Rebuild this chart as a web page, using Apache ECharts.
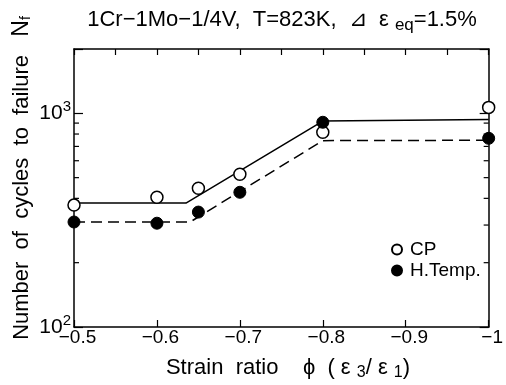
<!DOCTYPE html>
<html>
<head>
<meta charset="utf-8">
<script src="https://cdn.jsdelivr.net/npm/echarts@6/dist/echarts.min.js"></script>
<style>html,body{margin:0;padding:0;background:#fff;}#c{width:506px;height:385px;}</style>
</head>
<body>
<div id="c"></div>
<script>
// Data
var strainRatio = [-0.5, -0.6, -0.65, -0.7, -0.8, -1.0];
var cpCycles = [372, 405, 446, 519, 815, 1066];
var hTempCycles = [310, 306, 345, 427, 908, 764];
// fitted trend lines (breakpoints)
var cpLineX = [-0.5, -0.635, -0.8, -1.0];
var cpLineY = [380, 380, 920, 935];
var hTempLineX = [-0.5, -0.64, -0.8, -1.0];
var hTempLineY = [310, 310, 745, 748];
// axes
var xTicks = [-0.5, -0.6, -0.7, -0.8, -0.9, -1];
var yMinorTicks = [200, 300, 400, 500, 600, 700, 800, 900];

function zip(a, b) { return a.map(function (v, i) { return [v, b[i]]; }); }

var FONT = '"Liberation Sans", Arial, Helvetica, sans-serif';
var chart = echarts.init(document.getElementById('c'));

function fmtX(v) {
  var r = Math.round(v * 100) / 100;
  if (r === -1) return '\u22121';
  return '\u2212' + Math.abs(r).toFixed(1);
}
function fmtY(v) {
  var l = Math.log10(v);
  if (Math.abs(l - Math.round(l)) < 1e-6) return '{b|10}{s|' + Math.round(l) + '}';
  return '';
}

var option = {
  backgroundColor: '#fff',
  animation: false,
  textStyle: { fontFamily: FONT, color: '#000' },
  grid: { left: 74, right: 17, top: 49, bottom: 58 },
  xAxis: [{
    type: 'value', min: -1, max: -0.5, interval: 0.1, inverse: true, position: 'bottom',
    axisLine: { onZero: false, lineStyle: { color: '#000', width: 1.5 } },
    axisTick: { inside: true, length: 7, lineStyle: { color: '#000', width: 1.2 } },
    axisLabel: { formatter: fmtX, fontSize: 19, color: '#000', fontFamily: FONT, margin: 1, padding: [0, 0, 0, 7], showMinLabel: true, showMaxLabel: true },
    splitLine: { show: false }
  }, {
    type: 'value', min: -1, max: -0.5, interval: 0.05, inverse: true, position: 'top',
    axisLine: { onZero: false, lineStyle: { color: '#000', width: 1.5 } },
    axisTick: { inside: true, length: 6, lineStyle: { color: '#000', width: 1.2 } },
    axisLabel: { show: false },
    splitLine: { show: false }
  }],
  yAxis: [{
    type: 'log', logBase: 10, min: 100, max: 2000, position: 'left',
    axisLine: { onZero: false, lineStyle: { color: '#000', width: 1.5 } },
    axisTick: { inside: true, length: 9, lineStyle: { color: '#000', width: 1.2 } },
    axisLabel: {
      formatter: fmtY, margin: 3, color: '#000',
      rich: {
        b: { fontSize: 21, fontFamily: FONT, color: '#000' },
        s: { fontSize: 15, fontFamily: FONT, color: '#000', padding: [0, 0, 12, 0] }
      }
    },
    splitLine: { show: false }
  }, {
    type: 'log', logBase: 10, min: 100, max: 2000, position: 'right',
    axisLine: { onZero: false, lineStyle: { color: '#000', width: 1.5 } },
    axisTick: { inside: true, length: 9, lineStyle: { color: '#000', width: 1.2 } },
    axisLabel: { show: false },
    splitLine: { show: false }
  }],
  legend: {
    data: ['CP', 'H.Temp.'], orient: 'vertical', left: 386, top: 235,
    itemWidth: 10, itemHeight: 10, itemGap: 2, icon: 'circle',
    textStyle: { fontSize: 19, color: '#000', fontFamily: FONT, padding: [0, 0, 0, 3] }
  },
  graphic: [{
    type: 'text', x: 282, y: 20,
    style: {
      text: '1Cr\u22121Mo\u22121/4V,  T=823K,  \u22BF  \u03B5 {sub|eq}=1.5%',
      font: '22px ' + FONT, fill: '#000', align: 'center', verticalAlign: 'middle',
      rich: { sub: { fontSize: 17, fontFamily: FONT, padding: [11, 0, 0, 0] } }
    }
  }, {
    type: 'text', x: 22, y: 178, rotation: Math.PI / 2,
    style: {
      text: 'Number  of  cycles  to  failure   {b|N}{s|f}',
      font: '22px ' + FONT, fill: '#000', align: 'center', verticalAlign: 'middle',
      rich: { b: { fontSize: 23, fontFamily: FONT }, s: { fontSize: 14, fontFamily: FONT, padding: [9, 0, 0, 0] } }
    }
  }, {
    type: 'text', x: 288, y: 368,
    style: {
      text: 'Strain  ratio    \u03D5  ( \u03B5 {sub|3}/ \u03B5 {sub|1})',
      font: '22px ' + FONT, fill: '#000', align: 'center', verticalAlign: 'middle',
      rich: { sub: { fontSize: 16, fontFamily: FONT, padding: [10, 0, 0, 0] } }
    }
  }],
  series: [{
    type: 'custom', xAxisIndex: 0, yAxisIndex: 0, silent: true,
    data: yMinorTicks.map(function (v) { return [-0.75, v]; }),
    renderItem: function (params, api) {
      var cs = params.coordSys;
      var y = api.coord([api.value(0), api.value(1)])[1];
      var st = { stroke: '#000', lineWidth: 1.2 };
      return { type: 'group', children: [
        { type: 'line', shape: { x1: cs.x, y1: y, x2: cs.x + 5, y2: y }, style: st },
        { type: 'line', shape: { x1: cs.x + cs.width - 5, y1: y, x2: cs.x + cs.width, y2: y }, style: st }
      ] };
    }
  }, {
    name: 'CP line', type: 'line', data: zip(cpLineX, cpLineY), symbol: 'none',
    lineStyle: { color: '#000', width: 1.5 }, z: 3
  }, {
    name: 'H.Temp. line', type: 'line', data: zip(hTempLineX, hTempLineY), symbol: 'none',
    lineStyle: { color: '#000', width: 1.5, type: [11, 6] }, z: 3
  }, {
    name: 'CP', type: 'scatter', data: zip(strainRatio, cpCycles), symbol: 'circle', symbolSize: 12,
    itemStyle: { color: '#fff', borderColor: '#000', borderWidth: 1.5, opacity: 1 }, z: 5
  }, {
    name: 'H.Temp.', type: 'scatter', data: zip(strainRatio, hTempCycles), symbol: 'circle', symbolSize: 12,
    itemStyle: { color: '#000', borderColor: '#000', borderWidth: 1, opacity: 1 }, z: 5
  }]
};
chart.setOption(option);
</script>
</body>
</html>
